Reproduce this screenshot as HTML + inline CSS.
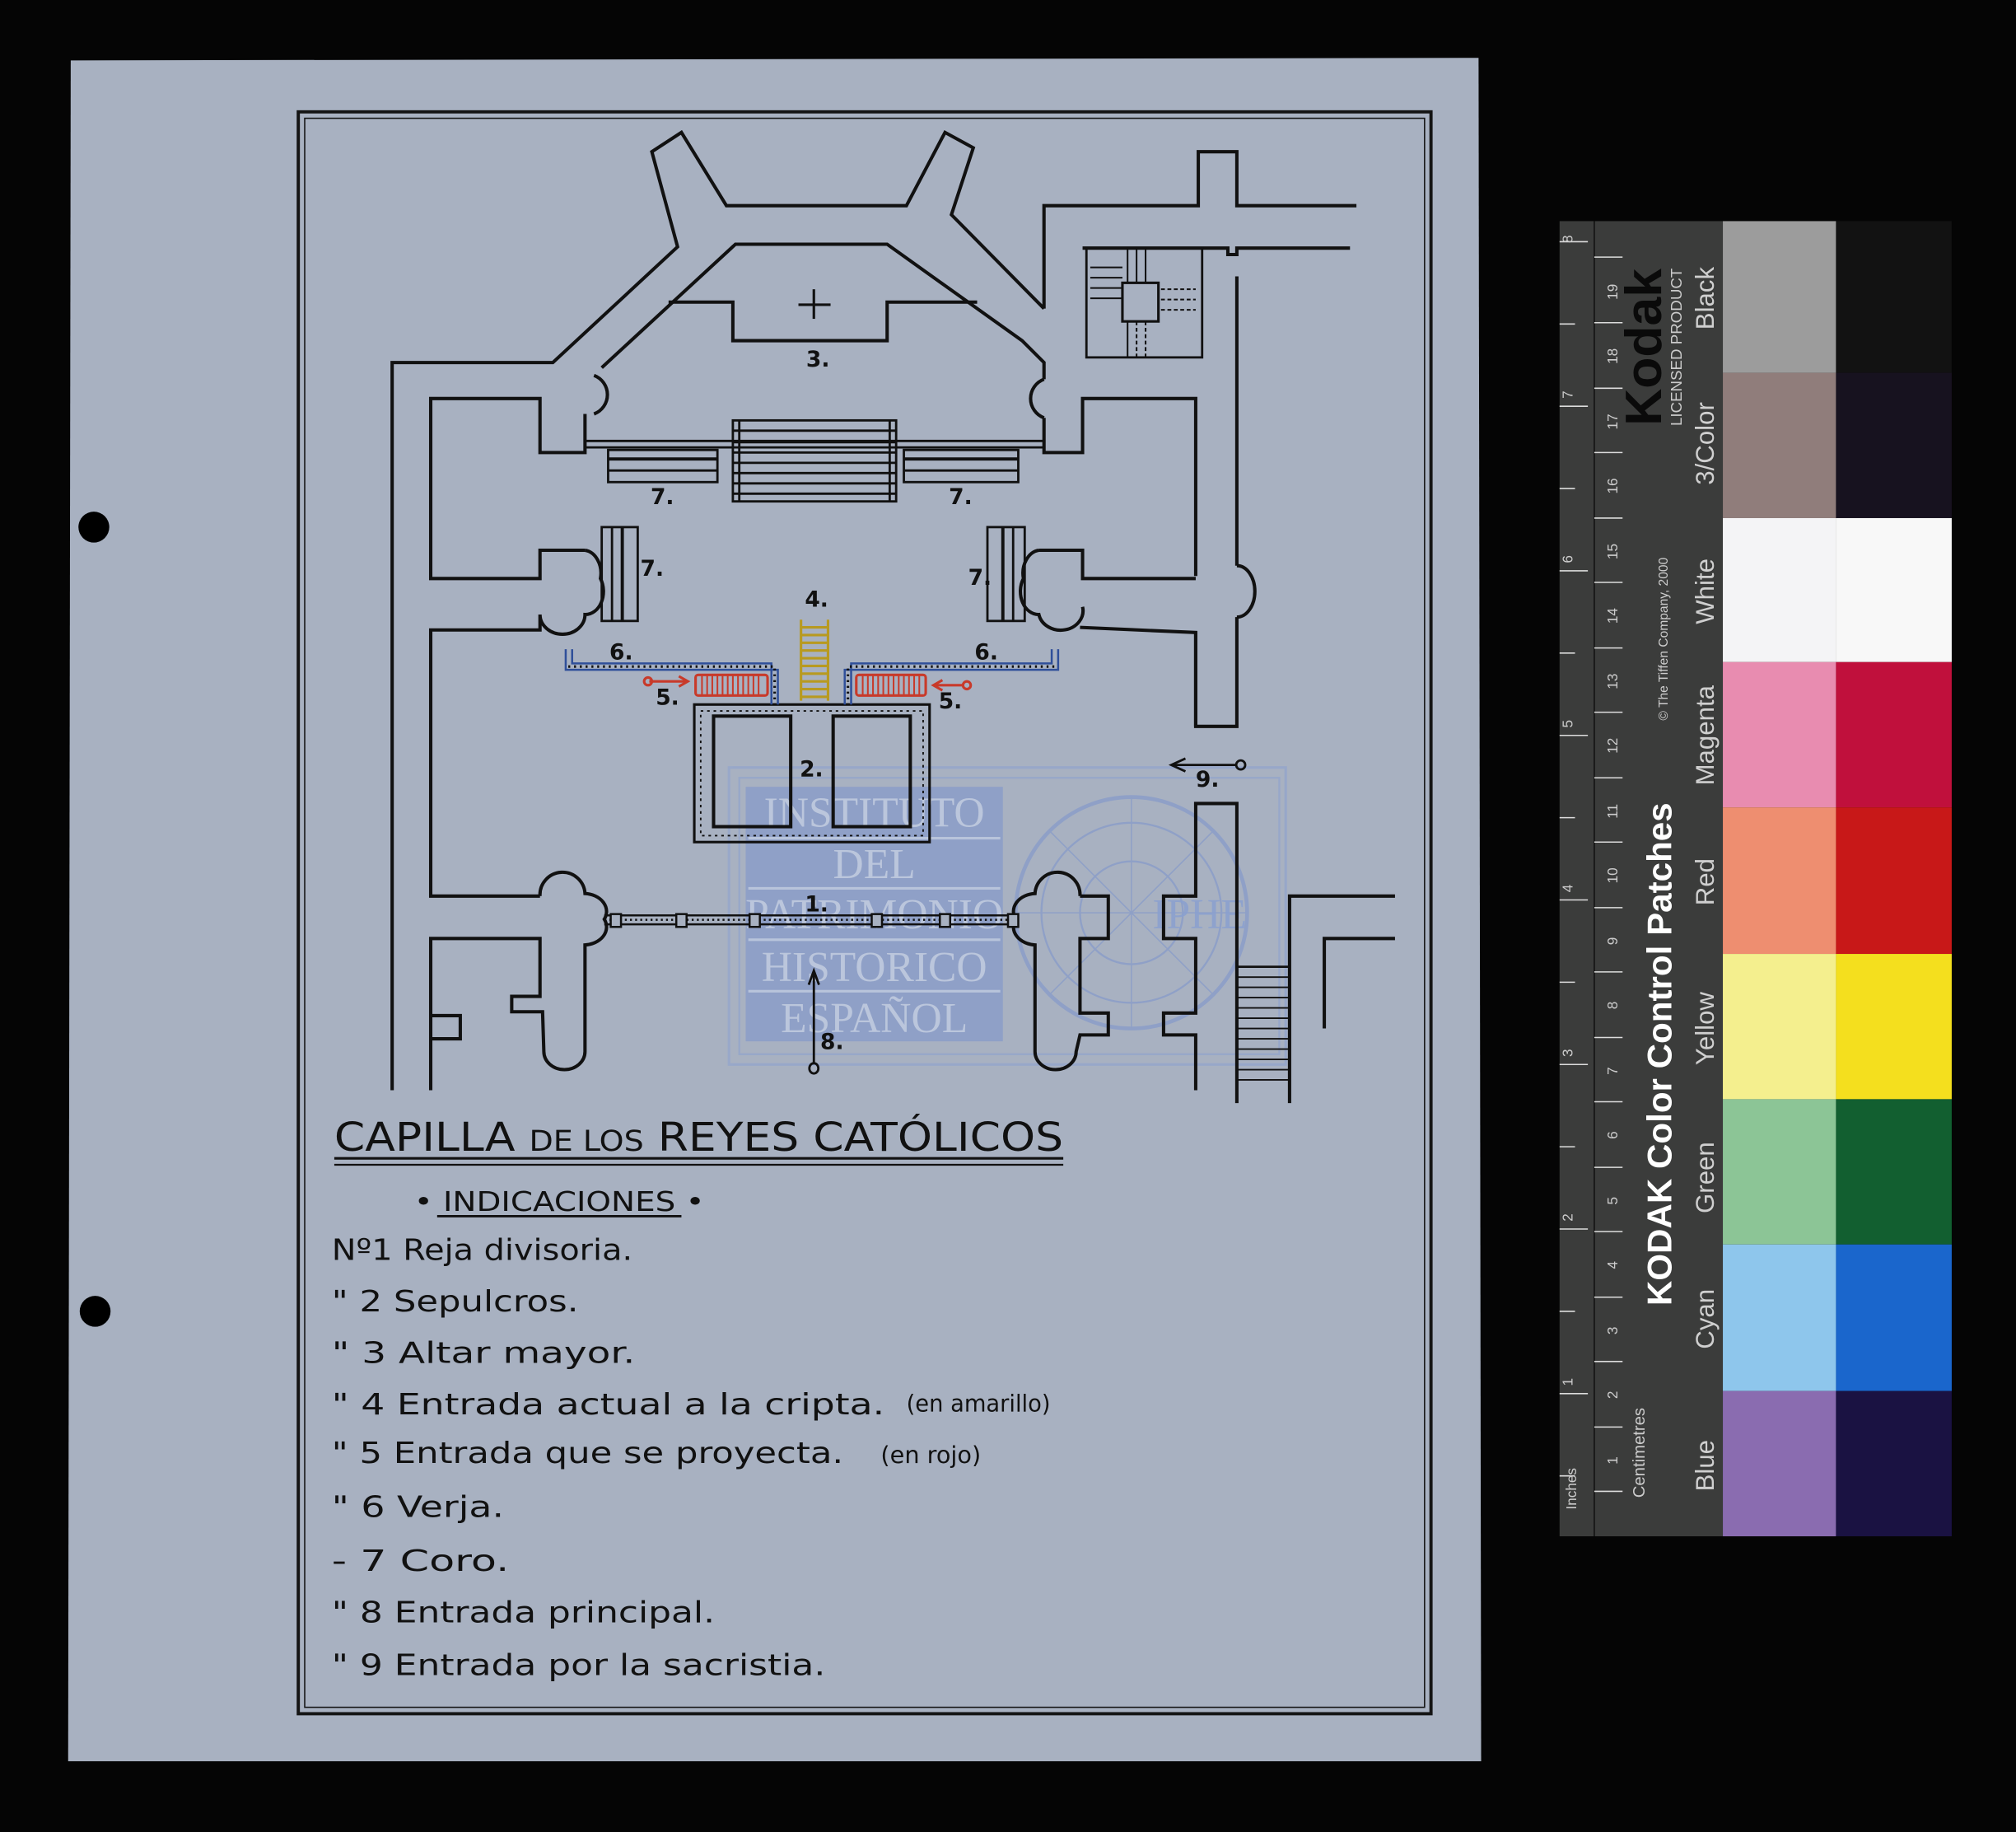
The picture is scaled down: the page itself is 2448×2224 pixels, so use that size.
<!DOCTYPE html>
<html><head><meta charset="utf-8"><style>html,body{margin:0;padding:0;background:#000;}svg{display:block;}</style></head>
<body>
<svg xmlns="http://www.w3.org/2000/svg" width="2448" height="2224" viewBox="0 0 1568 1425" preserveAspectRatio="none">
<rect x="0" y="0" width="1568" height="1425" fill="#050505"/>
<!-- paper -->
<polygon points="55,47 1150,45 1152,1370 53,1370" fill="#a8b1c1"/>
<circle cx="73" cy="410" r="12" fill="#000"/>
<circle cx="74" cy="1020" r="12" fill="#000"/>
<!-- border -->
<rect x="232" y="87" width="881" height="1246" fill="none" stroke="#141414" stroke-width="2.5"/>
<rect x="237" y="92" width="871" height="1236" fill="none" stroke="#141414" stroke-width="1"/>

<!-- watermark -->
<g opacity="0.55">
<rect x="567" y="597" width="433" height="231" fill="none" stroke="#8aa0d0" stroke-width="2"/>
<rect x="575" y="605" width="420" height="215" fill="none" stroke="#8aa0d0" stroke-width="1.5"/>
<rect x="580" y="612" width="200" height="198" fill="#7b93cc"/>
<circle cx="880" cy="710" r="90" fill="none" stroke="#7b93cc" stroke-width="3"/>
<circle cx="880" cy="710" r="70" fill="none" stroke="#7b93cc" stroke-width="1.5"/>
<circle cx="880" cy="710" r="40" fill="none" stroke="#7b93cc" stroke-width="1.5"/>
<line x1="790" y1="710" x2="970" y2="710" stroke="#7b93cc"/><line x1="880" y1="620" x2="880" y2="800" stroke="#7b93cc"/>
<line x1="816" y1="646" x2="944" y2="774" stroke="#7b93cc"/><line x1="944" y1="646" x2="816" y2="774" stroke="#7b93cc"/>
</g>
<g font-family="Liberation Serif, serif" font-size="33" fill="#c3cde0" text-anchor="middle" opacity="0.85">
<text x="680" y="643">INSTITUTO</text><text x="680" y="683">DEL</text><text x="680" y="722">PATRIMONIO</text><text x="680" y="763">HISTORICO</text><text x="680" y="803">ESPAÑOL</text>
<text x="933" y="722" fill="#8aa0d0">IPHE</text>
</g>
<g stroke="#c3cde0" stroke-width="2" opacity="0.8"><line x1="582" y1="652" x2="778" y2="652"/><line x1="582" y1="691" x2="778" y2="691"/><line x1="582" y1="731" x2="778" y2="731"/><line x1="582" y1="771" x2="778" y2="771"/></g>

<!-- plan -->
<g fill="none" stroke="#111" stroke-width="2.6" stroke-linejoin="miter">
<!-- left outer -->
<polyline points="305,848 305,282 430,282 527,192 507,118 530,103 565,160 705,160 735,103 757,115 740,167 812,240"/>
<polyline points="812,240 812,160 932,160 932,118 962,118 962,160 1055,160"/>
<polyline points="842,193 955,193 955,198 962,198 962,193 1050,193"/>
<polyline points="962,215 962,440"/>
<path d="M962,440 a14,20 0 0 1 0,40"/>
<polyline points="962,480 962,565 930,565 930,492 840,488"/>
<polyline points="930,448 930,310 842,310 842,352 812,352 812,325"/>
<path d="M812,325 a16,16 0 0 1 0,-30"/>
<polyline points="812,295 812,282 795,265 690,190 572,190 468,286"/>
<path d="M462,292 a16,16 0 0 1 0,30"/>
<polyline points="455,322 455,352 420,352 420,310 335,310 335,450 420,450 420,428 455,428"/>
<path d="M455,428 a14,18 0 0 1 12,22 a14,18 0 0 1 -12,28 a16,14 0 0 1 -35,0 L420,490 335,490 335,697 420,697"/>
<path d="M808,428 L842,428 842,450 930,450 M808,428 a14,18 0 0 0 -12,22 a14,18 0 0 0 12,28 a16,14 0 0 0 34,-6"/>
<line x1="930" y1="492" x2="930" y2="565"/>
<!-- altar -->
<polyline points="520,235 570,235 570,265 690,265 690,235 760,235"/>
<line x1="633" y1="225" x2="633" y2="248" stroke-width="2"/><line x1="621" y1="237" x2="646" y2="237" stroke-width="2"/>
<!-- stair room -->
<rect x="845" y="193" width="90" height="85" stroke-width="1.8"/>
<rect x="873" y="220" width="28" height="30" stroke-width="2"/>
<!-- lower left pier -->
<path d="M420,697 a16,16 0 0 1 35,-2 a18,14 0 0 1 15,20 a18,14 0 0 1 -15,20 L455,818 a16,14 0 0 1 -32,0 L422,787 398,787 398,775 420,775 420,730 335,730 335,848"/>
<polyline points="335,808 358,808 358,790 335,790"/>
<!-- lower right pier -->
<path d="M840,697 a16,16 0 0 0 -35,-2 a18,14 0 0 0 -15,20 a18,14 0 0 0 15,20 L805,818 a16,14 0 0 0 32,0 L840,805 862,805 862,788 840,788 840,730 862,730 862,697 840,697"/>
<polyline points="930,848 930,805 905,805 905,788 930,788 930,730 905,730 905,697 930,697 930,625 962,625 962,858"/>
<polyline points="1003,858 1003,697 1085,697"/>
<polyline points="1030,800 1030,730 1085,730"/>
<!-- 2. tombs -->
<rect x="540" y="548" width="183" height="107" stroke-width="2"/>
<rect x="545" y="553" width="173" height="97" stroke-width="1.2" stroke-dasharray="2 3"/>
<rect x="555" y="557" width="60" height="86"/>
<rect x="648" y="557" width="60" height="86"/>
</g>
<!-- stair hatch -->
<g stroke="#111" stroke-width="1.3">
<line x1="848" y1="208" x2="873" y2="208"/><line x1="848" y1="216" x2="873" y2="216"/><line x1="848" y1="224" x2="873" y2="224"/><line x1="848" y1="232" x2="873" y2="232"/>
<line x1="877" y1="193" x2="877" y2="220"/><line x1="884" y1="193" x2="884" y2="220"/><line x1="891" y1="193" x2="891" y2="220"/>
<line x1="877" y1="250" x2="877" y2="278"/><line x1="884" y1="250" x2="884" y2="278" stroke-dasharray="3 2"/><line x1="891" y1="250" x2="891" y2="278" stroke-dasharray="3 2"/>
<line x1="903" y1="225" x2="930" y2="225" stroke-dasharray="3 2"/><line x1="903" y1="233" x2="930" y2="233" stroke-dasharray="3 2"/><line x1="903" y1="241" x2="930" y2="241" stroke-dasharray="3 2"/>
</g>
<!-- choir -->
<g fill="none" stroke="#111" stroke-width="1.8">
<line x1="455" y1="343" x2="812" y2="343"/><line x1="455" y1="348" x2="812" y2="348"/>
<rect x="570" y="327" width="127" height="63"/>
<line x1="575" y1="327" x2="575" y2="390"/><line x1="692" y1="327" x2="692" y2="390"/>
<line x1="570" y1="335" x2="697" y2="335"/><line x1="570" y1="344" x2="697" y2="344"/><line x1="570" y1="352" x2="697" y2="352"/><line x1="570" y1="360" x2="697" y2="360"/><line x1="570" y1="368" x2="697" y2="368"/><line x1="570" y1="376" x2="697" y2="376"/><line x1="570" y1="384" x2="697" y2="384"/>
<rect x="473" y="350" width="85" height="25"/><line x1="473" y1="357" x2="558" y2="357" stroke-width="2.5"/><line x1="473" y1="366" x2="558" y2="366"/>
<rect x="703" y="350" width="89" height="25"/><line x1="703" y1="357" x2="792" y2="357" stroke-width="2.5"/><line x1="703" y1="366" x2="792" y2="366"/>
<rect x="468" y="410" width="28" height="73"/><line x1="476" y1="410" x2="476" y2="483"/><line x1="484" y1="410" x2="484" y2="483" stroke-width="2.5"/>
<rect x="768" y="410" width="29" height="73"/><line x1="780" y1="410" x2="780" y2="483" stroke-width="2.5"/><line x1="788" y1="410" x2="788" y2="483"/>
<!-- right stair -->
<line x1="962" y1="752" x2="1003" y2="752"/>
</g>
<g stroke="#111" stroke-width="1.2">
<line x1="962" y1="760" x2="1003" y2="760"/><line x1="962" y1="768" x2="1003" y2="768"/><line x1="962" y1="776" x2="1003" y2="776"/><line x1="962" y1="784" x2="1003" y2="784"/><line x1="962" y1="792" x2="1003" y2="792"/><line x1="962" y1="800" x2="1003" y2="800"/><line x1="962" y1="808" x2="1003" y2="808"/><line x1="962" y1="816" x2="1003" y2="816"/><line x1="962" y1="824" x2="1003" y2="824"/><line x1="962" y1="832" x2="1003" y2="832"/><line x1="962" y1="840" x2="1003" y2="840"/>
<line x1="1003" y1="750" x2="1003" y2="852"/>
</g>
<!-- reja 1 -->
<g stroke="#111" stroke-width="1.6" fill="#a8b1c1">
<line x1="470" y1="712" x2="790" y2="712"/><line x1="470" y1="719" x2="790" y2="719"/>
<line x1="470" y1="715.5" x2="790" y2="715.5" stroke-dasharray="1.5 2.5"/>
<rect x="475" y="711" width="8" height="10"/><rect x="526" y="711" width="8" height="10"/><rect x="583" y="711" width="8" height="10"/><rect x="678" y="711" width="8" height="10"/><rect x="731" y="711" width="8" height="10"/><rect x="784" y="711" width="8" height="10"/>
</g>
<!-- arrow 8 -->
<g stroke="#111" stroke-width="1.8" fill="none">
<line x1="633" y1="828" x2="633" y2="757"/><polyline points="629,766 633,755 637,766"/><ellipse cx="633" cy="831" rx="3.5" ry="4"/>
<line x1="913" y1="595" x2="962" y2="595"/><polyline points="922,590 911,595 922,600"/><circle cx="965" cy="595" r="3.5"/>
</g>
<!-- blue verja -->
<g fill="none" stroke="#2f4f9a" stroke-width="1.6">
<polyline points="440,505 440,521 605,521 605,548"/><polyline points="445,505 445,516 600,516 600,548"/>
<polyline points="823,505 823,521 657,521 657,548"/><polyline points="818,505 818,516 662,516 662,548"/>
</g>
<g fill="none" stroke="#111" stroke-width="2" stroke-dasharray="1.5 3">
<polyline points="442,518.5 602.5,518.5 602.5,548"/><polyline points="820,518.5 659.5,518.5 659.5,548"/>
</g>
<!-- yellow ladder -->
<g stroke="#b89a20" stroke-width="2" fill="none">
<line x1="623" y1="482" x2="623" y2="545"/><line x1="644" y1="482" x2="644" y2="545"/>
<line x1="623" y1="488" x2="644" y2="488"/><line x1="623" y1="494" x2="644" y2="494"/><line x1="623" y1="500" x2="644" y2="500"/><line x1="623" y1="506" x2="644" y2="506"/><line x1="623" y1="512" x2="644" y2="512"/><line x1="623" y1="518" x2="644" y2="518"/><line x1="623" y1="524" x2="644" y2="524"/><line x1="623" y1="530" x2="644" y2="530"/><line x1="623" y1="536" x2="644" y2="536"/><line x1="623" y1="542" x2="644" y2="542"/>
</g>
<!-- red grilles -->
<g stroke="#c83a2a" stroke-width="2" fill="none">
<rect x="541" y="525" width="56" height="16" rx="2"/><rect x="666" y="525" width="54" height="16" rx="2"/>
<line x1="505" y1="530" x2="535" y2="530"/><polyline points="528,526 535,530 528,534"/><circle cx="504" cy="530" r="3"/>
<line x1="727" y1="533" x2="750" y2="533"/><polyline points="733,529 726,533 733,537"/><circle cx="752" cy="533" r="3"/>
</g>
<g stroke="#c83a2a" stroke-width="1.3">
<path d="M546,525v16M550,525v16M554,525v16M558,525v16M562,525v16M566,525v16M570,525v16M574,525v16M578,525v16M582,525v16M586,525v16M590,525v16M671,525v16M675,525v16M679,525v16M683,525v16M687,525v16M691,525v16M695,525v16M699,525v16M703,525v16M707,525v16M711,525v16M715,525v16"/>
</g>
<!-- plan labels -->
<g font-family="DejaVu Sans, sans-serif" font-size="17" font-weight="bold" fill="#111">
<text x="627" y="285">3.</text><text x="506" y="392">7.</text><text x="738" y="392">7.</text>
<text x="498" y="448">7.</text><text x="753" y="455">7.</text><text x="626" y="472">4.</text>
<text x="474" y="513">6.</text><text x="758" y="513">6.</text><text x="510" y="548">5.</text><text x="730" y="551">5.</text>
<text x="622" y="604">2.</text><text x="626" y="709">1.</text><text x="638" y="816">8.</text><text x="930" y="612">9.</text>
</g>

<!-- title and legend -->
<g font-family="DejaVu Sans, sans-serif" fill="#111">
<text x="260" y="895" font-size="31" textLength="567" lengthAdjust="spacingAndGlyphs">CAPILLA <tspan font-size="22">DE LOS</tspan> REYES CATÓLICOS</text>
<line x1="260" y1="901" x2="827" y2="901" stroke="#111" stroke-width="2"/><line x1="260" y1="906" x2="827" y2="906" stroke="#111" stroke-width="1.5"/>
<text x="322" y="942" font-size="21" textLength="226" lengthAdjust="spacingAndGlyphs">• INDICACIONES •</text>
<line x1="340" y1="946" x2="530" y2="946" stroke="#111" stroke-width="1.8"/>
<g font-size="23">
<text x="258" y="980" textLength="234" lengthAdjust="spacingAndGlyphs">Nº1 Reja divisoria.</text>
<text x="258" y="1020" textLength="192" lengthAdjust="spacingAndGlyphs">" 2 Sepulcros.</text>
<text x="258" y="1060" textLength="236" lengthAdjust="spacingAndGlyphs">" 3 Altar mayor.</text>
<text x="258" y="1100" textLength="430" lengthAdjust="spacingAndGlyphs">" 4 Entrada actual a la cripta.</text>
<text x="705" y="1098" font-size="18" textLength="112" lengthAdjust="spacingAndGlyphs">(en amarillo)</text>
<text x="258" y="1138" textLength="398" lengthAdjust="spacingAndGlyphs">" 5 Entrada que se proyecta.</text>
<text x="685" y="1138" font-size="18" textLength="78" lengthAdjust="spacingAndGlyphs">(en rojo)</text>
<text x="258" y="1180" textLength="134" lengthAdjust="spacingAndGlyphs">" 6 Verja.</text>
<text x="258" y="1222" textLength="138" lengthAdjust="spacingAndGlyphs">- 7 Coro.</text>
<text x="258" y="1262" textLength="298" lengthAdjust="spacingAndGlyphs">" 8 Entrada principal.</text>
<text x="258" y="1303" textLength="384" lengthAdjust="spacingAndGlyphs">" 9 Entrada por la sacristia.</text>
</g>
</g>

<!-- Kodak strip -->
<rect x="1213" y="172" width="127" height="1023" fill="#3b3c3b"/>
<line x1="1240" y1="172" x2="1240" y2="1195" stroke="#111" stroke-width="1"/>
<g stroke="#ddd" stroke-width="1">
<path d="M1213,188h22M1213,316h22M1213,444h22M1213,572h22M1213,700h22M1213,828h22M1213,956h22M1213,1084h22"/>
<path d="M1213,252h12M1213,380h12M1213,508h12M1213,636h12M1213,764h12M1213,892h12M1213,1020h12M1213,1148h12"/>
<path d="M1240,1160h22M1240,1110h22M1240,1059h22M1240,1009h22M1240,958h22M1240,908h22M1240,857h22M1240,807h22M1240,756h22M1240,706h22M1240,655h22M1240,605h22M1240,554h22M1240,504h22M1240,453h22M1240,403h22M1240,352h22M1240,302h22M1240,251h22M1240,200h22"/>
</g>
<g font-family="Liberation Sans, sans-serif" fill="#ccc" font-size="11" text-anchor="middle">
<text transform="translate(1226,1158) rotate(-90)">Inches</text>
<text transform="translate(1279,1130) rotate(-90)" font-size="13">Centimetres</text>
<text transform="translate(1258,1136) rotate(-90)">1</text><text transform="translate(1258,1085) rotate(-90)">2</text><text transform="translate(1258,1035) rotate(-90)">3</text><text transform="translate(1258,984) rotate(-90)">4</text><text transform="translate(1258,934) rotate(-90)">5</text><text transform="translate(1258,883) rotate(-90)">6</text><text transform="translate(1258,833) rotate(-90)">7</text><text transform="translate(1258,782) rotate(-90)">8</text><text transform="translate(1258,732) rotate(-90)">9</text><text transform="translate(1258,681) rotate(-90)">10</text><text transform="translate(1258,631) rotate(-90)">11</text><text transform="translate(1258,580) rotate(-90)">12</text><text transform="translate(1258,530) rotate(-90)">13</text><text transform="translate(1258,479) rotate(-90)">14</text><text transform="translate(1258,429) rotate(-90)">15</text><text transform="translate(1258,378) rotate(-90)">16</text><text transform="translate(1258,328) rotate(-90)">17</text><text transform="translate(1258,277) rotate(-90)">18</text><text transform="translate(1258,227) rotate(-90)">19</text>
<text transform="translate(1223,1075) rotate(-90)">1</text><text transform="translate(1223,947) rotate(-90)">2</text><text transform="translate(1223,819) rotate(-90)">3</text><text transform="translate(1223,691) rotate(-90)">4</text><text transform="translate(1223,563) rotate(-90)">5</text><text transform="translate(1223,435) rotate(-90)">6</text><text transform="translate(1223,307) rotate(-90)">7</text><text transform="translate(1223,186) rotate(-90)">8</text>
<text transform="translate(1297,497) rotate(-90)" font-size="10">© The Tiffen Company, 2000</text>
<text transform="translate(1308,270) rotate(-90)" font-size="12">LICENSED PRODUCT</text>
<text transform="translate(1300,820) rotate(-90)" font-size="27" font-weight="bold" fill="#fff">KODAK Color Control Patches</text>
<text transform="translate(1292,270) rotate(-90)" font-size="40" font-weight="bold" fill="#0a0a0a">Kodak</text>
<g font-size="20" fill="#cfcfcf">
<text transform="translate(1333,1140) rotate(-90)">Blue</text><text transform="translate(1333,1026) rotate(-90)">Cyan</text><text transform="translate(1333,916) rotate(-90)">Green</text><text transform="translate(1333,800) rotate(-90)">Yellow</text><text transform="translate(1333,686) rotate(-90)">Red</text><text transform="translate(1333,572) rotate(-90)">Magenta</text><text transform="translate(1333,460) rotate(-90)">White</text><text transform="translate(1333,345) rotate(-90)">3/Color</text><text transform="translate(1333,232) rotate(-90)">Black</text>
</g>
</g>
<g>
<rect x="1340" y="172" width="88" height="118" fill="#9c9c9c"/><rect x="1428" y="172" width="90" height="118" fill="#121212"/>
<rect x="1340" y="290" width="88" height="113" fill="#907d7b"/><rect x="1428" y="290" width="90" height="113" fill="#17121f"/>
<rect x="1340" y="403" width="88" height="112" fill="#f4f4f6"/><rect x="1428" y="403" width="90" height="112" fill="#f8f8f8"/>
<rect x="1340" y="515" width="88" height="113" fill="#e88cb0"/><rect x="1428" y="515" width="90" height="113" fill="#c0103c"/>
<rect x="1340" y="628" width="88" height="114" fill="#ee8e70"/><rect x="1428" y="628" width="90" height="114" fill="#c81818"/>
<rect x="1340" y="742" width="88" height="113" fill="#f4ef8e"/><rect x="1428" y="742" width="90" height="113" fill="#f4df1e"/>
<rect x="1340" y="855" width="88" height="113" fill="#8cc596"/><rect x="1428" y="855" width="90" height="113" fill="#125f30"/>
<rect x="1340" y="968" width="88" height="114" fill="#8ec6ec"/><rect x="1428" y="968" width="90" height="114" fill="#1a66cc"/>
<rect x="1340" y="1082" width="88" height="113" fill="#8a6cb0"/><rect x="1428" y="1082" width="90" height="113" fill="#1a1242"/>
</g>
</svg>
</body></html>
